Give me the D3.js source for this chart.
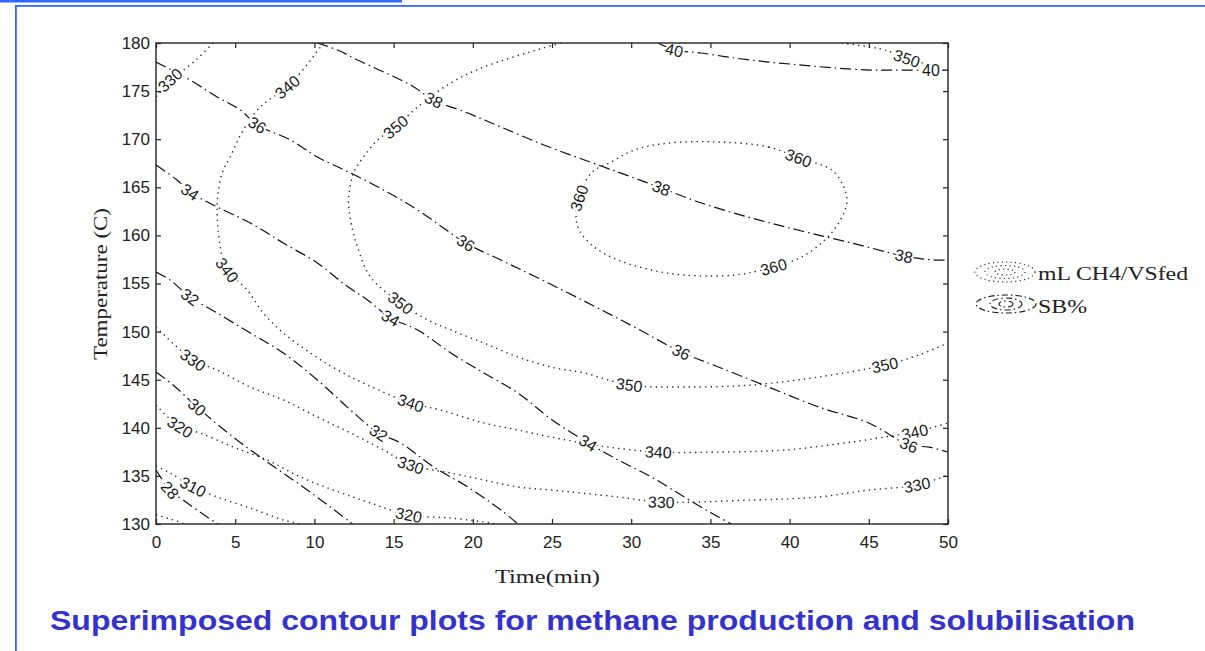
<!DOCTYPE html>
<html>
<head>
<meta charset="utf-8">
<script src="https://cdn.jsdelivr.net/npm/d3@7"></script>
<style>
  html, body { margin: 0; padding: 0; background: #fff; }
  svg { display: block; }
</style>
</head>
<body>
<svg id="chart" width="1205" height="651"></svg>
<script>
// ---- axis ticks ----
const timeTicks = [0, 5, 10, 15, 20, 25, 30, 35, 40, 45, 50];
const tempTicks = [130, 135, 140, 145, 150, 155, 160, 165, 170, 175, 180];

// ---- methane yield contours (mL CH4/VSfed), [time (min), temperature (C)] ----
const ch4_330_top = [[3.6,180],[2.5,178.2],[1.0,176.2],[0,174.4]];
const ch4_340 = [[10.57,180],[9.11,176.88],[8.29,175.43],[6.58,173.35],[5.51,170.96],[4.68,168.15],
  [4.18,166.49],[3.92,164.41],[3.86,162.95],[3.92,160.56],[4.18,157.75],[4.49,156.4],[5.76,154.32],
  [6.77,151.93],[8.04,149.85],[9.75,147.78],[11.46,146.01],[13.35,144.45],[16.08,142.58],[17.97,141.85],
  [20.7,140.5],[22.85,139.77],[24.94,139.04],[28.1,138.1],[31.71,137.48],[35.7,137.48],[39.68,137.69],
  [43.92,138.52],[46.01,139.04],[47.91,139.56],[50,140.5]];
const ch4_350 = [[25.57,180],[24.49,179.5],[20.7,177.5],[18.61,175.84],[16.52,173.35],[15.13,171.27],
  [13.99,169.92],[13.1,168.15],[12.47,166.49],[12.22,164.72],[12.15,163.37],[12.41,160.56],[12.72,158.79],
  [13.54,155.68],[15.44,152.97],[17.15,151.21],[18.61,150.17],[20.7,148.81],[22.85,147.36],[24.94,146.32],
  [27.03,145.7],[29.87,144.45],[33.35,144.24],[37.59,144.45],[41.84,145.28],[46.01,146.53],[48.16,147.57],
  [50,148.81]];
const ch4_350_corner = [[43.29,180],[45.0,179.6],[46.01,179.27],[47.85,178.23],[50,176.99]];
const ch4_360 = [[35.51,169.71],[38.67,169.19],[40.57,168.05],[42.66,166.8],[43.42,165.03],[43.61,163.37],
  [43.1,161.29],[42.22,159.52],[40.76,157.75],[38.99,156.72],[36.52,155.88],[33.35,155.88],[31.27,156.4],
  [29.18,157.44],[27.66,158.79],[26.71,160.56],[26.52,161.91],[26.71,163.89],[27.47,166.49],[28.73,167.63],
  [30.19,168.88],[32.34,169.6]];
const ch4_330 = [[0,150.48],[2.34,147.05],[3.86,146.01],[5.95,144.24],[8.04,142.89],[10.19,141.12],
  [12.28,139.46],[14.37,137.69],[16.08,136.13],[18.61,135.3],[20.7,134.57],[22.85,133.85],[24.94,133.53],
  [29.18,132.81],[31.9,132.28],[37.59,132.49],[41.84,132.81],[45.0,133.53],[48.04,134.05],[50,135.09]];
const ch4_320 = [[0,142.37],[1.52,140.08],[2.78,139.46],[4.87,138.0],[7.03,136.65],[9.11,134.89],
  [11.2,133.53],[13.35,132.29],[15.95,130.94],[18.61,130.62],[20.7,130.21],[21.46,130]];
const ch4_310 = [[0,136.03],[0.89,135.3],[2.34,133.85],[3.86,132.81],[5.95,131.66],[8.04,130.42],[9.11,130]];
const ch4_300 = [[0,130.94],[0.89,130.52],[1.84,130]];

// ---- solubilisation contours (SB%) ----
const sb_40 = [[31.71,180],[32.72,179.27],[34.43,178.96],[36.52,178.44],[38.67,178.02],[40.76,177.71],
  [42.85,177.4],[45.0,177.19],[46.46,177.19],[48.92,177.19],[50,177.19]];
const sb_38 = [[10.19,180],[11.46,179.27],[12.72,178.23],[14.37,176.99],[16.08,175.63],[17.53,174.07],
  [19.68,172.72],[21.77,171.27],[24.49,169.4],[28.1,167.21],[30.19,165.97],[31.9,164.93],[34.43,163.37],
  [37.59,161.81],[40.76,160.46],[43.92,159.21],[47.22,157.86],[49.18,157.44],[50,157.44]];
const sb_36 = [[0,178.02],[2.15,176.15],[3.86,174.39],[5.32,173.04],[6.39,171.48],[8.48,169.92],
  [10.19,168.15],[12.28,166.49],[14.37,164.72],[16.52,162.64],[19.56,159.21],[21.77,157.44],[23.86,155.78],
  [27.03,153.18],[30.19,150.48],[33.16,147.88],[35.51,146.32],[38.67,144.24],[41.84,142.16],
  [45.0,140.5],[47.53,138.21],[48.8,138.0],[50,137.48]];
const sb_34 = [[0,167.32],[1.33,165.76],[2.15,164.51],[3.86,162.95],[5.95,161.29],[8.04,159.21],
  [10.19,157.13],[11.96,154.84],[13.35,153.29],[14.81,151.41],[16.52,150.17],[18.61,147.78],[20.7,145.7],
  [22.85,143.62],[24.94,140.9],[27.28,138.42],[29.18,136.65],[31.27,134.89],[33.35,132.81],
  [35.06,131.14],[36.33,130]];
const sb_32 = [[0,156.2],[0.89,155.36],[2.15,153.6],[3.86,151.93],[5.95,149.85],[8.04,147.78],
  [10.19,144.97],[12.28,141.85],[14.05,139.46],[15.44,138.42],[17.53,135.93],[19.68,133.85],[21.77,131.46],
  [22.85,130]];
const sb_30 = [[0,145.8],[1.08,144.45],[2.59,142.16],[4.87,139.04],[7.03,136.44],[9.11,134.05],
  [11.01,131.77],[12.41,130]];
const sb_28 = [[0,135.61],[0.89,133.53],[1.71,132.49],[3.23,130.73],[3.92,130]];

// contour label anchors: [text, time, temperature]
const ch4Labels = [["330",0.89,176.15],["340",8.29,175.43],["350",15.13,171.27],["340",4.49,156.4],
  ["360",26.71,163.89],["360",40.57,168.05],["360",38.99,156.72],["350",15.44,152.97],["350",29.87,144.45],
  ["350",46.01,146.53],["350",47.4,178.4],["340",16.08,142.58],["340",31.71,137.48],["340",47.91,139.56],
  ["330",2.34,147.05],["330",16.08,136.13],["330",31.9,132.28],["330",48.04,134.05],
  ["320",1.52,140.08],["320",15.95,130.94],["310",2.34,133.85]];
const sbLabels = [["40",32.72,179.27],["40",48.92,177.19],["38",17.53,174.07],["38",31.9,164.93],
  ["38",47.22,157.86],["36",6.39,171.48],["36",19.56,159.21],["36",33.16,147.88],["36",47.53,138.21],
  ["34",2.15,164.51],["34",14.81,151.41],["34",27.28,138.42],["32",2.15,153.6],["32",14.05,139.46],
  ["30",2.59,142.16],["28",0.89,133.53]];

const ch4Contours = [
  {pts: ch4_330_top}, {pts: ch4_340}, {pts: ch4_350}, {pts: ch4_350_corner},
  {pts: ch4_360, closed: true}, {pts: ch4_330}, {pts: ch4_320}, {pts: ch4_310}, {pts: ch4_300}
];
const sbContours = [sb_40, sb_38, sb_36, sb_34, sb_32, sb_30, sb_28].map(p => ({pts: p}));

// ---- layout ----
const svg = d3.select("#chart");
const plot = {left: 156, right: 948, top: 43, bottom: 524};
const x = d3.scaleLinear().domain([0, 50]).range([plot.left, plot.right]);
const y = d3.scaleLinear().domain([130, 180]).range([plot.bottom, plot.top]);

// page frame
const frameBlue = "#3366ff";
svg.append("rect").attr("x", 0).attr("y", 0).attr("width", 402).attr("height", 2.5).attr("fill", frameBlue);
svg.append("rect").attr("x", 15).attr("y", 5).attr("width", 1190).attr("height", 1.8).attr("fill", frameBlue);
svg.append("rect").attr("x", 15).attr("y", 5).attr("width", 1.8).attr("height", 646).attr("fill", frameBlue);

// clip for contours
svg.append("clipPath").attr("id", "plotClip").append("rect")
  .attr("x", plot.left).attr("y", plot.top)
  .attr("width", plot.right - plot.left).attr("height", plot.bottom - plot.top);

const lineOpen = d3.line().x(d => x(d[0])).y(d => y(d[1])).curve(d3.curveCatmullRom.alpha(0.5));
const lineClosed = d3.line().x(d => x(d[0])).y(d => y(d[1])).curve(d3.curveCatmullRomClosed.alpha(0.5));

const g = svg.append("g").attr("clip-path", "url(#plotClip)");

g.selectAll("path.ch4").data(ch4Contours).join("path")
  .attr("class", "ch4")
  .attr("d", d => (d.closed ? lineClosed : lineOpen)(d.pts))
  .attr("fill", "none").attr("stroke", "#222").attr("stroke-width", 1.4)
  .attr("stroke-dasharray", "1.3,4.2");

g.selectAll("path.sb").data(sbContours).join("path")
  .attr("class", "sb")
  .attr("d", d => lineOpen(d.pts))
  .attr("fill", "none").attr("stroke", "#111").attr("stroke-width", 1.2)
  .attr("stroke-dasharray", "11,4,1.5,4");

// label angle follows the local direction of its contour
function angleAt(pts, t, T, closed) {
  const px = pts.map(p => [x(p[0]), y(p[1])]);
  const lx = x(t), ly = y(T);
  let best = 0, bd = Infinity;
  px.forEach((p, i) => { const d = (p[0]-lx)**2 + (p[1]-ly)**2; if (d < bd) { bd = d; best = i; } });
  const n = px.length;
  const a = closed ? px[(best - 1 + n) % n] : px[Math.max(0, best - 1)];
  const b = closed ? px[(best + 1) % n] : px[Math.min(n - 1, best + 1)];
  let ang = Math.atan2(b[1] - a[1], b[0] - a[0]) * 180 / Math.PI;
  if (ang > 90) ang -= 180;
  if (ang < -90) ang += 180;
  return ang;
}
function nearestContour(list, t, T) {
  let best = null, bd = Infinity;
  list.forEach(c => c.pts.forEach(p => {
    const d = (x(p[0]) - x(t))**2 + (y(p[1]) - y(T))**2;
    if (d < bd) { bd = d; best = c; }
  }));
  return best;
}

const labelG = svg.append("g").attr("clip-path", "url(#plotClip)")
  .attr("font-family", "'Liberation Sans', Arial, sans-serif").attr("font-size", 16)
  .attr("fill", "#1a1a1a").attr("text-anchor", "middle");

function drawLabels(labels, contours) {
  labels.forEach(([txt, t, T]) => {
    const c = nearestContour(contours, t, T);
    const ang = angleAt(c.pts, t, T, c.closed);
    labelG.append("text")
      .attr("transform", `translate(${x(t)},${y(T)}) rotate(${ang})`)
      .attr("dy", "0.36em")
      .attr("stroke", "#fff").attr("stroke-width", 4).attr("paint-order", "stroke")
      .text(txt);
  });
}
drawLabels(ch4Labels, ch4Contours);
drawLabels(sbLabels, sbContours);

// ---- axes (inward ticks on all four sides) ----
const tickFont = "'Liberation Sans', Arial, sans-serif";
const axB = svg.append("g").attr("transform", `translate(0,${plot.bottom})`)
  .call(d3.axisBottom(x).tickValues(timeTicks).tickSize(-5).tickSizeOuter(0).tickPadding(12));
const axT = svg.append("g").attr("transform", `translate(0,${plot.top})`)
  .call(d3.axisTop(x).tickValues(timeTicks).tickSize(-5).tickSizeOuter(0).tickFormat(""));
const axL = svg.append("g").attr("transform", `translate(${plot.left},0)`)
  .call(d3.axisLeft(y).tickValues(tempTicks).tickSize(-5).tickSizeOuter(0).tickPadding(6));
const axR = svg.append("g").attr("transform", `translate(${plot.right},0)`)
  .call(d3.axisRight(y).tickValues(tempTicks).tickSize(-5).tickSizeOuter(0).tickFormat(""));
[axB, axT, axL, axR].forEach(a => {
  a.selectAll(".domain").remove();
  a.selectAll("line").attr("stroke", "#222").attr("stroke-width", 1.2);
  a.selectAll("text").attr("font-family", tickFont).attr("font-size", 17).attr("fill", "#222");
});
svg.append("rect").attr("x", plot.left).attr("y", plot.top)
  .attr("width", plot.right - plot.left).attr("height", plot.bottom - plot.top)
  .attr("fill", "none").attr("stroke", "#222").attr("stroke-width", 1.4);

// axis titles
const serif = "'Liberation Serif', 'Times New Roman', serif";
svg.append("text").attr("x", 495).attr("y", 583)
  .attr("font-family", serif).attr("font-size", 19).attr("fill", "#222")
  .attr("textLength", 105).attr("lengthAdjust", "spacingAndGlyphs")
  .text("Time(min)");
svg.append("text").attr("transform", "translate(107,284) rotate(-90)")
  .attr("text-anchor", "middle")
  .attr("font-family", serif).attr("font-size", 19).attr("fill", "#222")
  .attr("textLength", 152).attr("lengthAdjust", "spacingAndGlyphs")
  .text("Temperature (C)");

// ---- legend ----
const leg = svg.append("g");
[[30, 10], [20, 6.5], [10, 3]].forEach(([rx, ry]) => {
  leg.append("ellipse").attr("cx", 1005).attr("cy", 272).attr("rx", rx).attr("ry", ry)
    .attr("fill", "none").attr("stroke", "#333").attr("stroke-width", 1.2).attr("stroke-dasharray", "1.2,3.2");
});
[[30, 9], [16, 6], [7, 3]].forEach(([rx, ry]) => {
  leg.append("ellipse").attr("cx", 1006).attr("cy", 304).attr("rx", rx).attr("ry", ry)
    .attr("fill", "none").attr("stroke", "#222").attr("stroke-width", 1.2).attr("stroke-dasharray", "6,3,1.5,3");
});
leg.append("text").attr("x", 1038).attr("y", 280)
  .attr("font-family", serif).attr("font-size", 19).attr("fill", "#222")
  .attr("textLength", 150).attr("lengthAdjust", "spacingAndGlyphs").text("mL CH4/VSfed");
leg.append("text").attr("x", 1038).attr("y", 313)
  .attr("font-family", serif).attr("font-size", 19).attr("fill", "#222")
  .attr("textLength", 49).attr("lengthAdjust", "spacingAndGlyphs").text("SB%");

// ---- caption ----
svg.append("text").attr("x", 50).attr("y", 630)
  .attr("font-family", "'Liberation Sans', Arial, sans-serif").attr("font-weight", "bold")
  .attr("font-size", 28).attr("fill", "#3333cc")
  .attr("textLength", 1085).attr("lengthAdjust", "spacingAndGlyphs")
  .text("Superimposed contour plots for methane production and solubilisation");
</script>
</body>
</html>
